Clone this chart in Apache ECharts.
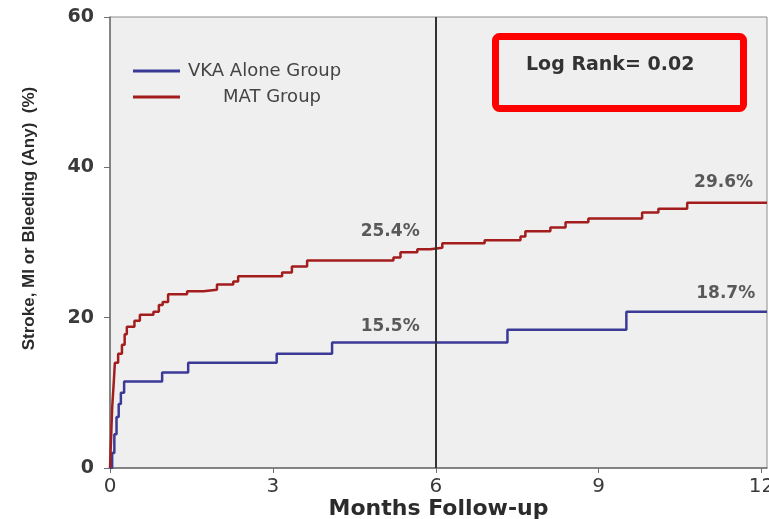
<!DOCTYPE html>
<html>
<head>
<meta charset="utf-8">
<script src="https://cdn.jsdelivr.net/npm/echarts@6/dist/echarts.min.js"></script>
<style>
  html, body { margin: 0; padding: 0; background: #ffffff; }
  #chart { width: 769px; height: 519px; }
</style>
</head>
<body>
<div id="chart"></div>
<script>
// Kaplan-Meier style cumulative event curves (time in months, cumulative %)
const vkaMonths = [0, 0.04, 0.08, 0.12, 0.16, 0.2, 0.26, 0.96, 1.44, 3.07, 4.09, 7.32, 9.51, 12.1];
const vkaPct    = [0, 2.0, 4.5, 6.8, 8.5, 10.0, 11.5, 12.7, 14.0, 15.2, 16.7, 18.4, 20.8, 20.8];

const matMonths = [0, 0.02, 0.04, 0.07, 0.09, 0.15, 0.22, 0.27, 0.31, 0.45, 0.55, 0.8, 0.9, 0.97, 1.07,
                   1.42, 1.72, 1.97, 2.27, 2.36, 3.17, 3.35, 3.63, 5.22, 5.35, 5.66, 5.9, 6.12, 6.9,
                   7.56, 7.65, 8.11, 8.39, 8.81, 9.8, 10.1, 10.63, 12.1];
const matPct    = [0, 4.0, 8.0, 11.5, 14.0, 15.2, 16.4, 17.8, 18.8, 19.6, 20.4, 20.8, 21.7, 22.1, 23.1,
                   23.5, 23.7, 24.4, 24.8, 25.5, 26.0, 26.8, 27.6, 28.0, 28.7, 29.1, 29.3, 29.9, 30.3,
                   30.8, 31.5, 32.0, 32.7, 33.2, 34.0, 34.5, 35.3, 35.3];

const seriesNames = ['VKA Alone Group', 'MAT Group'];
const xTicks = [0, 3, 6, 9, 12];
const yTicks = [0, 20, 40, 60];
const landmarkMonth = 6;

// Rate annotations written beside the curves
const noteText   = ['25.4%', '29.6%', '15.5%', '18.7%'];
const noteMonths = [5.16, 11.3, 5.16, 11.34];
const notePct    = [31.5, 38.0, 18.8, 23.2];

const logRankText = 'Log Rank= 0.02';

const toPairs = (xs, ys) => xs.map((x, i) => [x, ys[i]]);

const chart = echarts.init(document.getElementById('chart'), null, { renderer: 'canvas' });

const option = {
  backgroundColor: '#ffffff',
  animation: false,
  textStyle: { fontFamily: 'Liberation Sans, Arial, sans-serif' },
  grid: {
    left: 110, right: 2, top: 17, bottom: 51,
    outerBoundsMode: 'none',
    show: true, backgroundColor: '#efefef', borderColor: '#8c8c8c', borderWidth: 1
  },
  legend: [
    {
      data: [seriesNames[0]], left: 128, top: 57, orient: 'vertical',
      icon: 'rect', itemWidth: 47, itemHeight: 3,
      textStyle: { fontFamily: 'DejaVu Sans', fontSize: 18, color: '#444', padding: [0, 0, 0, 3] }
    },
    {
      data: [seriesNames[1]], left: 128, top: 83, orient: 'vertical',
      icon: 'rect', itemWidth: 47, itemHeight: 3,
      textStyle: { fontFamily: 'DejaVu Sans', fontSize: 18, color: '#444', padding: [0, 0, 0, 38] }
    }
  ],
  xAxis: {
    type: 'value', min: 0, max: 12.1,
    name: 'Months Follow-up', nameLocation: 'middle', nameGap: 30, nameMoveOverlap: false,
    nameTextStyle: { fontSize: 22, fontWeight: 'bold', color: '#2b2b2b', fontFamily: 'DejaVu Sans' },
    axisLine: { show: true, lineStyle: { color: '#6f6f6f', width: 1.5 } },
    axisTick: { show: true, length: 5, customValues: xTicks, lineStyle: { color: '#6f6f6f' } },
    axisLabel: { customValues: xTicks, fontSize: 20, color: '#3a3a3a', margin: 9, fontFamily: 'DejaVu Sans' },
    splitLine: { show: false }
  },
  yAxis: {
    type: 'value', min: 0, max: 60,
    name: 'Stroke, MI or Bleeding (Any)  (%)', nameLocation: 'middle', nameGap: 72, nameRotate: 90,
    nameMoveOverlap: false,
    nameTextStyle: {
      fontSize: 17, fontWeight: 'bold', color: '#2b2b2b',
      fontFamily: 'Liberation Sans Narrow, Liberation Sans, sans-serif',
      padding: [0, 0, 0, 48]
    },
    axisLine: { show: true, lineStyle: { color: '#6f6f6f', width: 1.5 } },
    axisTick: { show: true, length: 6, customValues: yTicks, lineStyle: { color: '#6f6f6f' } },
    axisLabel: { customValues: yTicks, fontSize: 19, fontWeight: 'bold', color: '#3a3a3a', margin: 16, fontFamily: 'DejaVu Sans' },
    splitLine: { show: false }
  },
  series: [
    {
      name: seriesNames[0], type: 'line', step: 'end', showSymbol: false,
      data: toPairs(vkaMonths, vkaPct),
      itemStyle: { color: '#3b3a96' },
      lineStyle: { color: '#3b3a96', width: 2.5 },
      markLine: {
        silent: true, symbol: 'none', label: { show: false },
        lineStyle: { color: '#333333', width: 2, type: 'solid' },
        data: [{ xAxis: landmarkMonth }]
      },
      z: 3
    },
    {
      name: seriesNames[1], type: 'line', step: 'end', showSymbol: false,
      data: toPairs(matMonths, matPct),
      itemStyle: { color: '#a31d1d' },
      lineStyle: { color: '#a31d1d', width: 2.5 },
      z: 3
    },
    {
      name: 'notes', type: 'scatter', symbolSize: 0, silent: true,
      data: noteMonths.map((m, i) => ({ value: [m, notePct[i]], text: noteText[i] })),
      label: {
        show: true, position: 'inside',
        formatter: p => p.data.text,
        fontSize: 17, fontWeight: 'bold', color: '#333', fontFamily: 'DejaVu Sans'
      },
      z: 5
    }
  ],
  graphic: [
    {
      type: 'rect', left: 492, top: 33,
      shape: { width: 248, height: 72, r: 4 },
      style: { fill: 'none', stroke: '#ff0000', lineWidth: 7 },
      z: 10
    },
    {
      type: 'text', left: 526, top: 56,
      style: { text: logRankText, fontSize: 19, fontWeight: 'bold', fill: '#333', fontFamily: 'DejaVu Sans' },
      z: 11
    }
  ]
};

chart.setOption(option);
</script>
</body>
</html>
